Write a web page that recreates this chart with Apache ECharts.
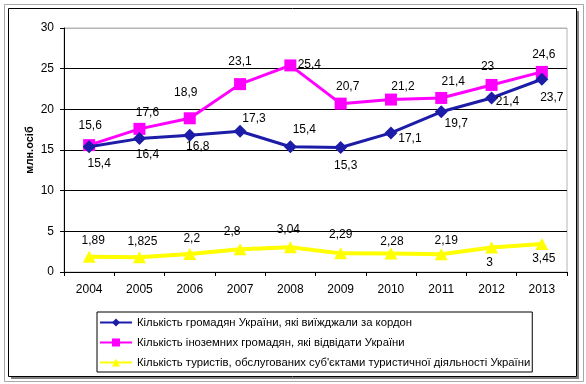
<!DOCTYPE html>
<html>
<head>
<meta charset="utf-8">
<script src="https://cdn.jsdelivr.net/npm/echarts@6/dist/echarts.min.js"></script>
<style>html,body{margin:0;padding:0;background:#fff;}#c{width:586px;height:384px;}</style>
</head>
<body>
<div id="c"></div>
<script>
const years = ['2004','2005','2006','2007','2008','2009','2010','2011','2012','2013'];
const yTicks = [0, 5, 10, 15, 20, 25, 30];
const seriesNames = [
  'Кількість громадян України, які виїжджали за кордон',
  'Кількість іноземних громадян, які відвідати України',
  'Кількість туристів, обслугованих суб\'єктами туристичної діяльності України'
];
const outbound = [15.4, 16.4, 16.8, 17.3, 15.4, 15.3, 17.1, 19.7, 21.4, 23.7];
const inbound = [15.6, 17.6, 18.9, 23.1, 25.4, 20.7, 21.2, 21.4, 23, 24.6];
const tourists = [1.89, 1.825, 2.2, 2.8, 3.04, 2.29, 2.28, 2.19, 3, 3.45];

// label offsets (styling only)
const offOut = [[10,17],[8,16],[8,11],[14,-13],[14,-17],[5,18],[19,6],[15,12],[16,4],[10,18]];
const offIn = [[1,-19],[8,-16],[-4,-26],[0,-22],[19,-1],[7,-17],[12,-13],[12,-16],[-4,-18],[2,-17]];
const offTour = [[4,-16],[3,-15],[2,-15],[-8,-18],[-2,-18],[0,-19],[1,-12],[5,-14],[-2,15],[2,15]];

const FONT = 'Liberation Sans, Arial, sans-serif';
function fmt(v){ return String(v).replace('.', ','); }
function mk(vals, offs){
  return vals.map((v,i)=>({value:v, label:{offset:offs[i]}}));
}
const chart = echarts.init(document.getElementById('c'), null, {renderer:'canvas'});
chart.setOption({
  animation:false,
  backgroundColor:'#fff',
  textStyle:{fontFamily:FONT},
  grid:{left:64, right:19, top:28, bottom:112, show:true, borderColor:'#b4b4b4', borderWidth:1},
  xAxis:{
    type:'category', data:years, boundaryGap:true,
    axisLine:{lineStyle:{color:'#000', width:1}},
    axisTick:{show:true, length:4, lineStyle:{color:'#000'}},
    axisLabel:{color:'#000', fontSize:12, margin:12, fontFamily:FONT},
    splitLine:{show:false}
  },
  yAxis:{
    type:'value', min:yTicks[0], max:yTicks[yTicks.length-1], interval:5,
    name:'млн.осіб', nameLocation:'middle', nameGap:29, nameRotate:90, nameMoveOverlap:false,
    nameTextStyle:{color:'#000', fontSize:11, fontWeight:'bold', fontFamily:FONT},
    axisLine:{show:true, lineStyle:{color:'#000', width:1}},
    axisTick:{show:true, length:4, lineStyle:{color:'#000'}},
    axisLabel:{color:'#000', fontSize:12, margin:10, fontFamily:FONT},
    splitLine:{show:true, lineStyle:{color:['#000','#000','#000','#000','#000','#000','#b4b4b4'], width:1}}
  },
  legend:{
    orient:'vertical', left:97, top:312,
    padding:[5,2,4,2], itemGap:9, itemWidth:32, itemHeight:10, itemTextGap:2,
    borderColor:'#000', borderWidth:1,
    textStyle:{color:'#000', fontSize:11.3, fontFamily:FONT},
    data:seriesNames
  },
  series:[
    {
      name:seriesNames[0], type:'line', data:mk(outbound, offOut),
      symbol:'diamond', symbolSize:13,
      itemStyle:{color:'#1c1ca8'}, lineStyle:{color:'#1c1ca8', width:3},
      label:{show:true, position:'inside', color:'#000', fontSize:12, fontFamily:FONT, formatter:p=>fmt(p.value)},
      z:3
    },
    {
      name:seriesNames[1], type:'line', data:mk(inbound, offIn),
      symbol:'rect', symbolSize:12,
      itemStyle:{color:'#ff00ff'}, lineStyle:{color:'#ff00ff', width:3},
      label:{show:true, position:'inside', color:'#000', fontSize:12, fontFamily:FONT, formatter:p=>fmt(p.value)},
      z:2
    },
    {
      name:seriesNames[2], type:'line', data:mk(tourists, offTour),
      symbol:'triangle', symbolSize:[13,12],
      itemStyle:{color:'#ffff00'}, lineStyle:{color:'#ffff00', width:4},
      label:{show:true, position:'inside', color:'#000', fontSize:12, fontFamily:FONT, formatter:p=>fmt(p.value)},
      z:2
    }
  ],
  graphic:[
    {type:'rect', shape:{x:4.5, y:4.5, width:579, height:377}, style:{fill:'none', stroke:'#a8a8a8', lineWidth:1}, silent:true},
    {type:'rect', shape:{x:577, y:11, width:2, height:368}, style:{fill:'#808080'}, silent:true},
    {type:'rect', shape:{x:11, y:377, width:568, height:2}, style:{fill:'#808080'}, silent:true},
    {type:'rect', shape:{x:8.5, y:8.5, width:568, height:368}, style:{fill:'none', stroke:'#000', lineWidth:1}, silent:true}
  ]
});
</script>
</body>
</html>
